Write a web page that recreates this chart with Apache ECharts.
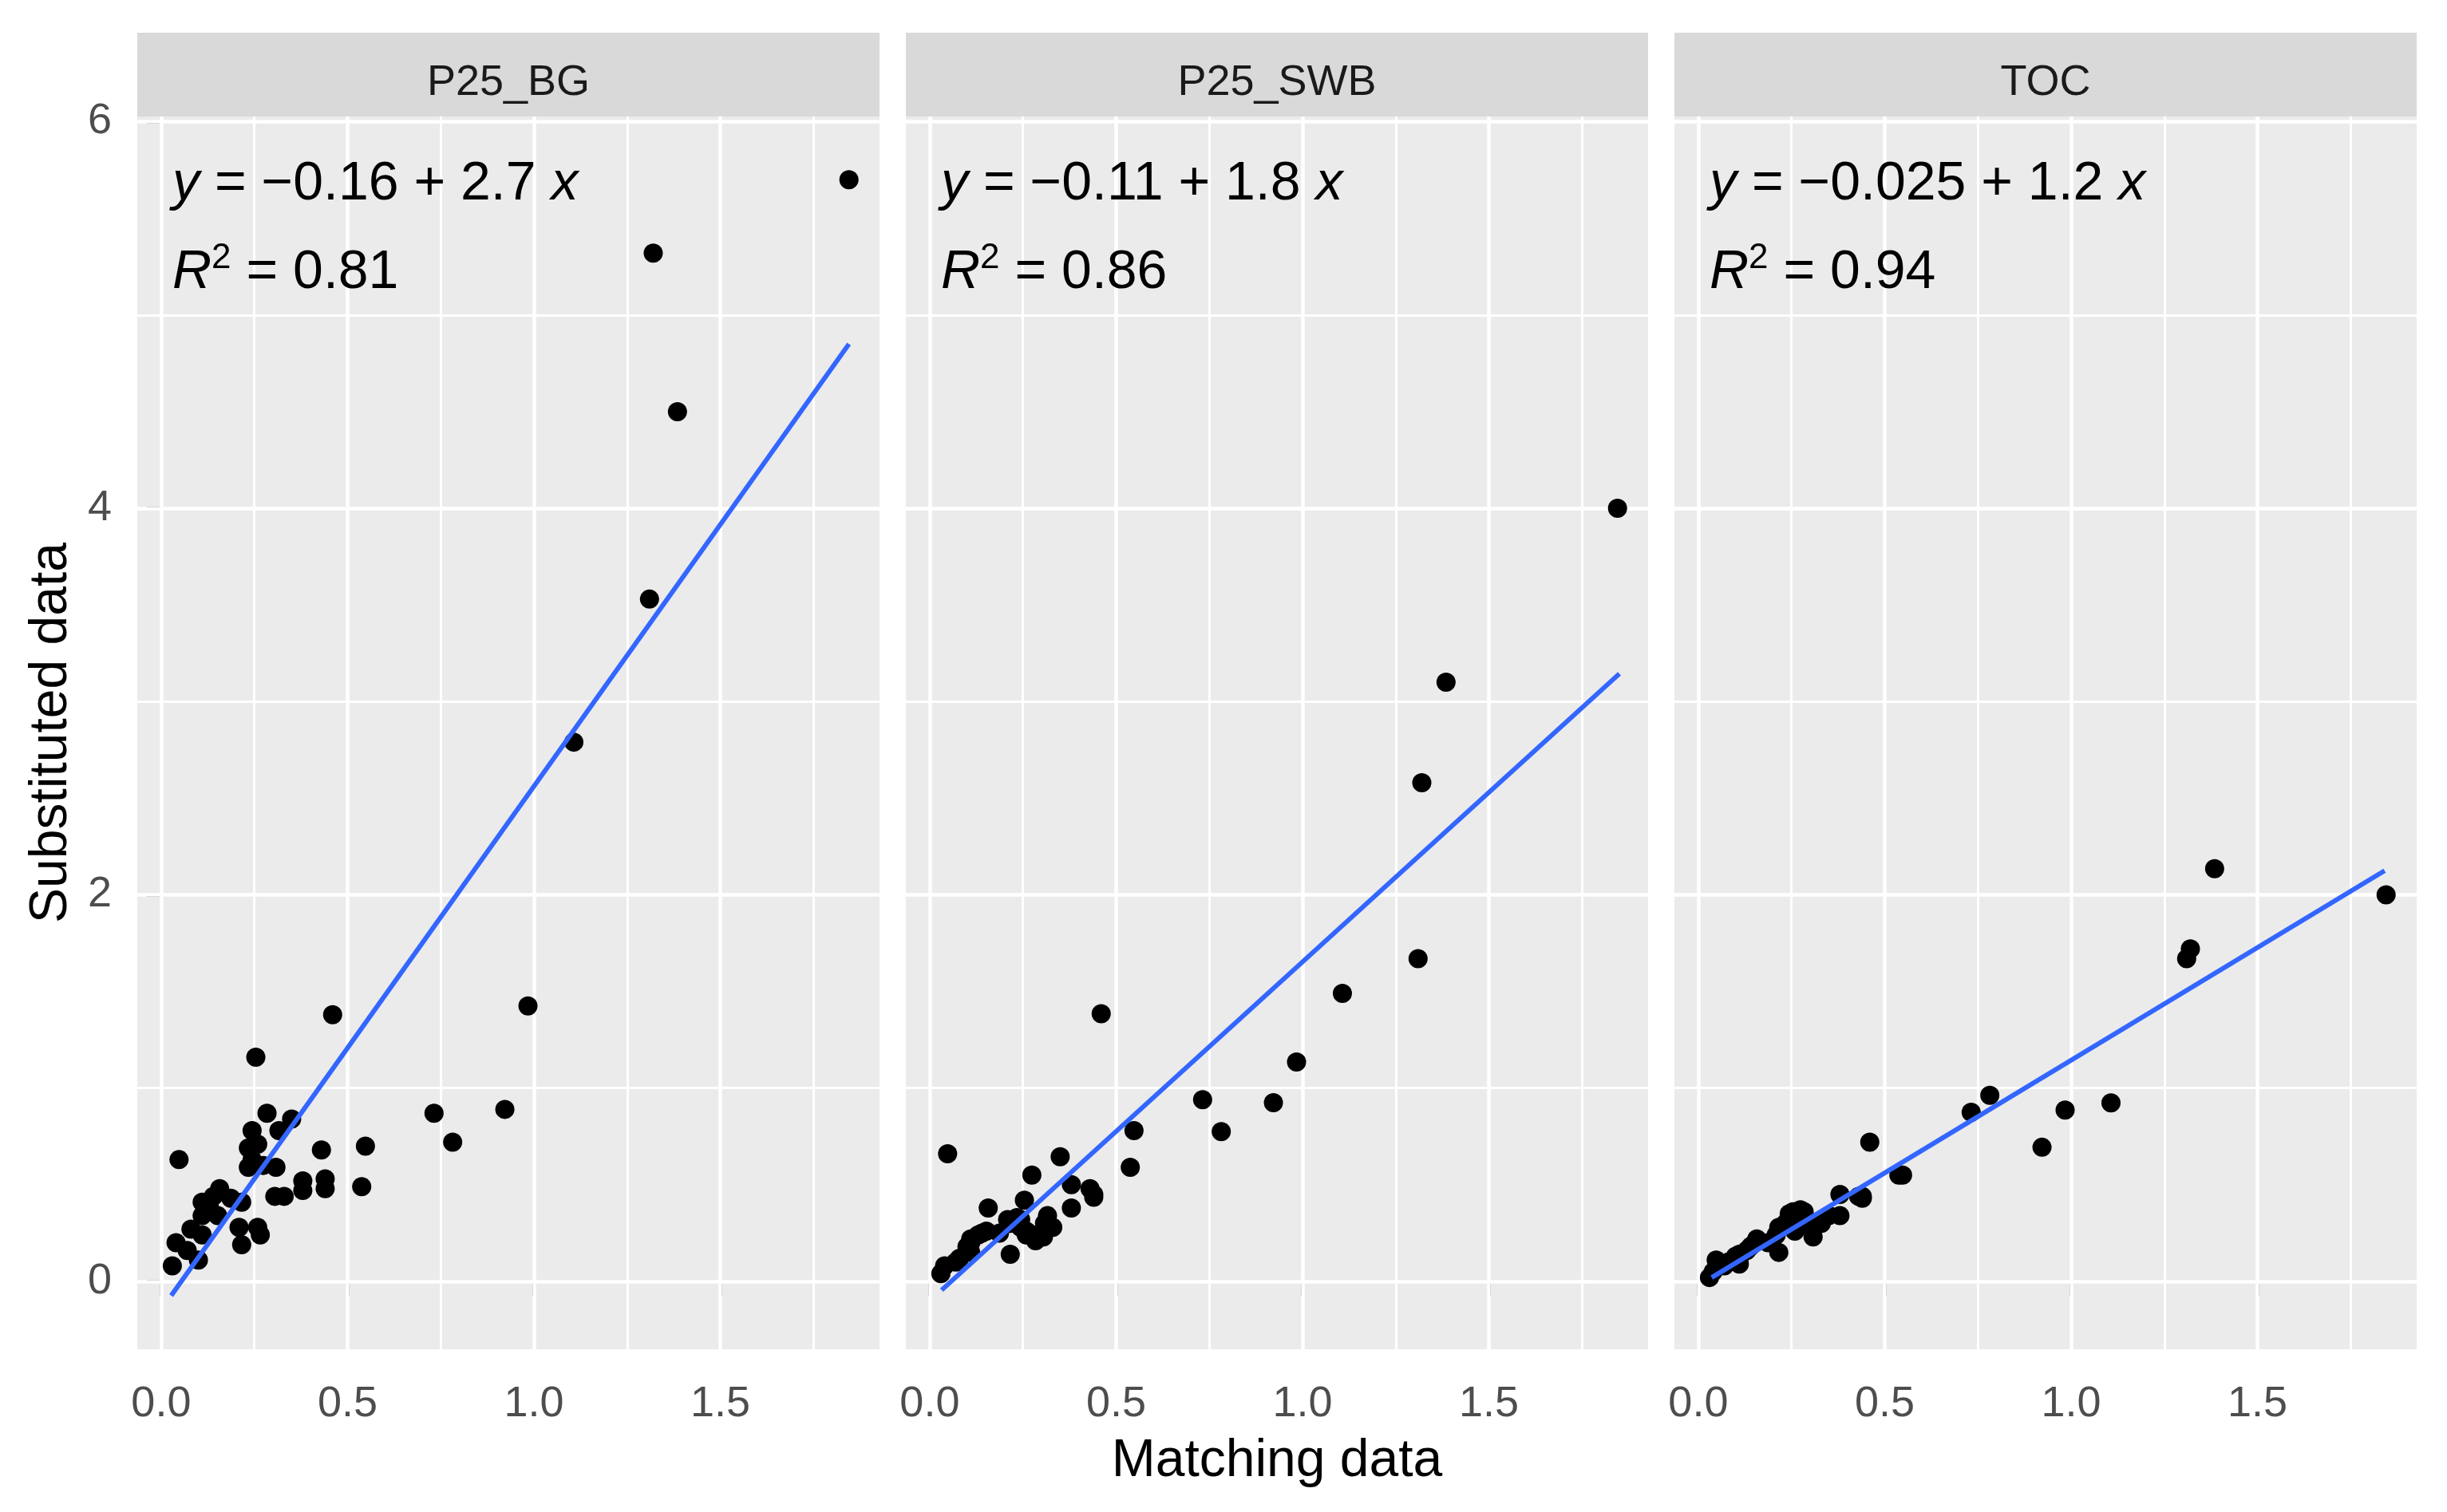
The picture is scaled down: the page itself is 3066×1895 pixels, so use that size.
<!DOCTYPE html>
<html>
<head>
<meta charset="utf-8">
<title>Substituted vs matching data</title>
<script src="https://cdn.jsdelivr.net/npm/echarts@6/dist/echarts.min.js"></script>
<style>
  html, body { margin: 0; padding: 0; background: #fff; }
  #chart { width: 3066px; height: 1895px; }
</style>
</head>
<body>
<div id="chart"></div>
<script>
// shared x (matching data) for every observation
const matchX = [0.030, 0.040, 0.048, 0.070, 0.080, 0.100, 0.110, 0.110, 0.110, 0.130,
  0.140, 0.152, 0.157, 0.187, 0.209, 0.216, 0.216, 0.234, 0.234, 0.244,
  0.244, 0.254, 0.259, 0.259, 0.266, 0.274, 0.284, 0.305, 0.308, 0.316,
  0.330, 0.350, 0.380, 0.380, 0.430, 0.440, 0.440, 0.460, 0.538, 0.548,
  0.732, 0.782, 0.922, 0.984, 1.107, 1.310, 1.320, 1.385, 1.845];

// substituted data, one array per panel
const bgY = [0.08, 0.20, 0.63, 0.16, 0.27, 0.11, 0.24, 0.34, 0.41, 0.38,
  0.44, 0.34, 0.48, 0.43, 0.28, 0.19, 0.41, 0.59, 0.69, 0.63,
  0.78, 1.16, 0.71, 0.28, 0.24, 0.60, 0.87, 0.44, 0.59, 0.78,
  0.44, 0.84, 0.52, 0.47, 0.68, 0.53, 0.48, 1.38, 0.49, 0.70,
  0.87, 0.72, 0.89, 1.425, 2.79, 3.53, 5.32, 4.50, 5.70];

const swbY = [0.04, 0.08, 0.66, 0.10, 0.12, 0.18, 0.20, 0.22, 0.15, 0.24,
  0.25, 0.26, 0.38, 0.25, 0.32, 0.14, 0.30, 0.33, 0.30, 0.32,
  0.28, 0.42, 0.26, 0.24, 0.25, 0.55, 0.21, 0.23, 0.30, 0.34,
  0.28, 0.645, 0.50, 0.38, 0.48, 0.435, 0.45, 1.385, 0.59, 0.78,
  0.94, 0.775, 0.925, 1.135, 1.49, 1.67, 2.58, 3.10, 4.00];

const tocY = [0.02, 0.05, 0.11, 0.08, 0.10, 0.13, 0.09, 0.14, 0.12, 0.16,
  0.18, 0.20, 0.22, 0.20, 0.24, 0.15, 0.28, 0.30, 0.29, 0.35,
  0.33, 0.36, 0.30, 0.26, 0.28, 0.37, 0.36, 0.28, 0.23, 0.29,
  0.30, 0.34, 0.45, 0.34, 0.44, 0.43, 0.44, 0.72, 0.55, 0.55,
  0.875, 0.963, 0.694, 0.886, 0.924, 1.67, 1.72, 2.135, 2.00];

// fitted line end points
const fitBG = [[0.027, -0.073], [1.845, 4.85]];
const fitSWB = [[0.032, -0.045], [1.85, 3.144]];
const fitTOC = [[0.036, 0.02], [1.841, 2.125]];

const panelNames = ['P25_BG', 'P25_SWB', 'TOC'];
const eqIntercept = ['\u22120.16', '\u22120.11', '\u22120.025'];
const eqSlope = ['2.7', '1.8', '1.2'];
const r2Values = ['0.81', '0.86', '0.94'];

const xMajor = [0, 0.5, 1.0, 1.5];
const xMinor = [0.25, 0.75, 1.25, 1.75];
const yMajor = [0, 2, 4, 6];
const yMinor = [1, 3, 5];

const X_MIN = -0.064, X_MAX = 1.927;
const Y_MIN = -0.351, Y_MAX = 6.027;

const FONT = 'Liberation Sans, Arial, sans-serif';
const GRID_TOP = 146, GRID_H = 1545, GRID_W = 930;
const gridLefts = [172, 1135, 2098];
const STRIP_TOP = 41;

const chart = echarts.init(document.getElementById('chart'), null, { renderer: 'canvas' });

const panelYs = [bgY, swbY, tocY];
const panelFits = [fitBG, fitSWB, fitTOC];

const grids = [], xAxes = [], yAxes = [], series = [], graphics = [];

gridLefts.forEach((left, i) => {
  grids.push({ left: left, top: GRID_TOP, width: GRID_W, height: GRID_H,
    show: true, backgroundColor: '#EBEBEB', borderWidth: 0, containLabel: false });

  xAxes.push({
    gridIndex: i, type: 'value', min: X_MIN, max: X_MAX,
    axisLine: { show: false },
    splitLine: { show: false },
    axisTick: { show: true, length: 18, customValues: xMajor, lineStyle: { color: '#333333', width: 3.5 } },
    axisLabel: { show: true, customValues: xMajor, margin: 42, color: '#4D4D4D', fontSize: 54, fontFamily: FONT,
      formatter: (v) => v.toFixed(1) }
  });

  yAxes.push({
    gridIndex: i, type: 'value', min: Y_MIN, max: Y_MAX,
    axisLine: { show: false },
    splitLine: { show: false },
    axisTick: { show: i === 0, length: 18, customValues: yMajor, lineStyle: { color: '#333333', width: 3.5 } },
    axisLabel: { show: i === 0, customValues: yMajor, margin: 32, color: '#4D4D4D', fontSize: 54, fontFamily: FONT,
      formatter: (v) => String(Math.round(v)) }
  });

  // white grid lines, drawn on the axes' own scales
  const lines = [];
  xMinor.forEach(v => lines.push({ xAxis: v, lineStyle: { width: 3 } }));
  yMinor.forEach(v => lines.push({ yAxis: v, lineStyle: { width: 3 } }));
  xMajor.forEach(v => lines.push({ xAxis: v, lineStyle: { width: 4.5 } }));
  yMajor.forEach(v => lines.push({ yAxis: v, lineStyle: { width: 4.5 } }));
  series.push({
    type: 'scatter', xAxisIndex: i, yAxisIndex: i, data: [], z: 1, silent: true,
    markLine: { silent: true, z: 1, symbol: 'none', animation: false, label: { show: false },
      lineStyle: { color: '#FFFFFF', type: 'solid', opacity: 1 }, data: lines }
  });

  series.push({
    type: 'scatter', xAxisIndex: i, yAxisIndex: i, z: 3,
    symbol: 'circle', symbolSize: 24,
    itemStyle: { color: '#000000', opacity: 1 },
    data: matchX.map((x, k) => [x, panelYs[i][k]])
  });

  series.push({
    type: 'line', xAxisIndex: i, yAxisIndex: i, z: 4,
    symbol: 'none', lineStyle: { color: '#3366FF', width: 6 },
    data: panelFits[i]
  });

  // facet strip
  graphics.push({ type: 'rect', shape: { x: left, y: STRIP_TOP, width: GRID_W, height: GRID_TOP - STRIP_TOP },
    style: { fill: '#D9D9D9' }, z: 1 });
  graphics.push({ type: 'text', x: left + GRID_W / 2, y: 104, z: 2,
    style: { text: panelNames[i], fill: '#1A1A1A', font: '54px ' + FONT, align: 'center', verticalAlign: 'middle' } });

  // regression equation and R^2
  const base = { fontSize: 68, fontFamily: FONT, fill: '#000000' };
  graphics.push({ type: 'text', x: left + 44, y: 231, z: 10,
    style: {
      text: '{i|y} = ' + eqIntercept[i] + ' + ' + eqSlope[i] + ' {i|x}',
      fill: '#000000', fontSize: 68, fontFamily: FONT, verticalAlign: 'middle',
      rich: { i: Object.assign({ fontStyle: 'italic' }, base) }
    } });
  graphics.push({ type: 'text', x: left + 44, y: 342, z: 10,
    style: {
      text: '{i|R}{s|2}{n| = ' + r2Values[i] + '}',
      fill: '#000000', fontSize: 68, fontFamily: FONT, verticalAlign: 'middle',
      rich: {
        i: Object.assign({ fontStyle: 'italic', lineHeight: 80 }, base),
        s: { fontSize: 44, fontFamily: FONT, fill: '#000000', verticalAlign: 'top', lineHeight: 80 },
        n: Object.assign({ lineHeight: 80 }, base)
      }
    } });
});

// axis titles
graphics.push({ type: 'text', x: 1600, y: 1832, z: 10,
  style: { text: 'Matching data', fill: '#000000', font: '66px ' + FONT, align: 'center', verticalAlign: 'middle' } });
graphics.push({ type: 'text', x: 65, y: GRID_TOP + GRID_H / 2, rotation: Math.PI / 2, z: 10,
  style: { text: 'Substituted data', fill: '#000000', font: '66px ' + FONT, align: 'center', verticalAlign: 'middle' } });

chart.setOption({
  animation: false,
  backgroundColor: '#FFFFFF',
  grid: grids,
  xAxis: xAxes,
  yAxis: yAxes,
  series: series,
  graphic: graphics
});
</script>
</body>
</html>
